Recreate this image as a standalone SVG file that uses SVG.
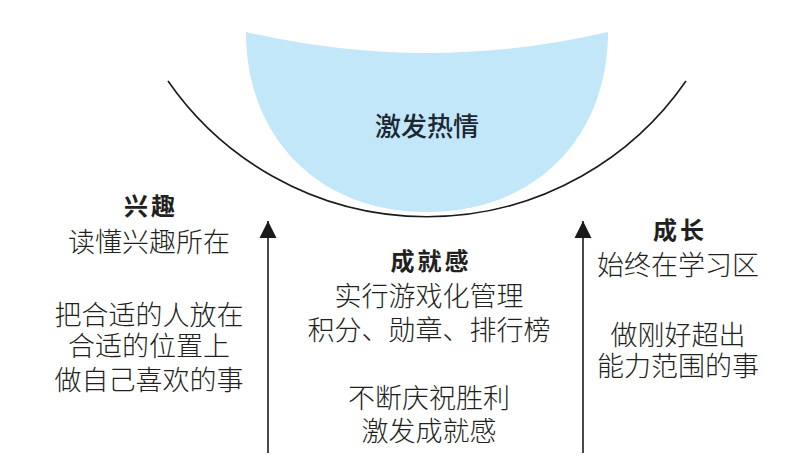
<svg xmlns="http://www.w3.org/2000/svg" width="800" height="467" viewBox="0 0 800 467">
<defs>
<style>
text{font-family:"Noto Sans CJK SC","Noto Sans",sans-serif;fill:#231f20;text-anchor:middle}
.t{font-size:24px;font-weight:bold;letter-spacing:3px}
.b{font-size:27px;font-weight:300}
.c{font-size:26px;font-weight:500;fill:#1c2733}
.ln{fill:none;stroke:#1a1a1a;stroke-width:1.6}
</style>
<marker id="ah2" viewBox="0 0 18 18" refX="17" refY="9" markerWidth="18" markerHeight="18" markerUnits="userSpaceOnUse" orient="auto">
<path d="M0,0.5 L17,9 L0,17.5 Z" fill="#1a1a1a"/>
</marker>
</defs>
<rect width="800" height="467" fill="#ffffff"/>
<g id="passion">
<path d="M246,32 C246,136 317,212 427,212 C537,212 608,136 608,32 Q427,74 246,32 Z" fill="#c2e7f8"/>
<text class="c" x="427" y="136">激发热情</text>
</g>
<g id="connectors">
<path class="ln" d="M168,81 A315,315 0 0,0 686,81"/>
<line class="ln" x1="268" y1="453" x2="268" y2="221" marker-end="url(#ah2)"/>
<line class="ln" x1="583" y1="453" x2="583" y2="221" marker-end="url(#ah2)"/>
</g>
<g id="interest">
<text class="t" x="151" y="215">兴趣</text>
<text class="b" x="149" y="252">读懂兴趣所在</text>
<text class="b" x="149" y="325">把合适的人放在</text>
<text class="b" x="149" y="356">合适的位置上</text>
<text class="b" x="149" y="390">做自己喜欢的事</text>
</g>
<g id="achievement">
<text class="t" x="431" y="270">成就感</text>
<text class="b" x="429" y="306">实行游戏化管理</text>
<text class="b" x="429" y="340">积分、勋章、排行榜</text>
<text class="b" x="429" y="408">不断庆祝胜利</text>
<text class="b" x="429" y="441">激发成就感</text>
</g>
<g id="growth">
<text class="t" x="680" y="239">成长</text>
<text class="b" x="678" y="275">始终在学习区</text>
<text class="b" x="678" y="345">做刚好超出</text>
<text class="b" x="678" y="376">能力范围的事</text>
</g>
</svg>
